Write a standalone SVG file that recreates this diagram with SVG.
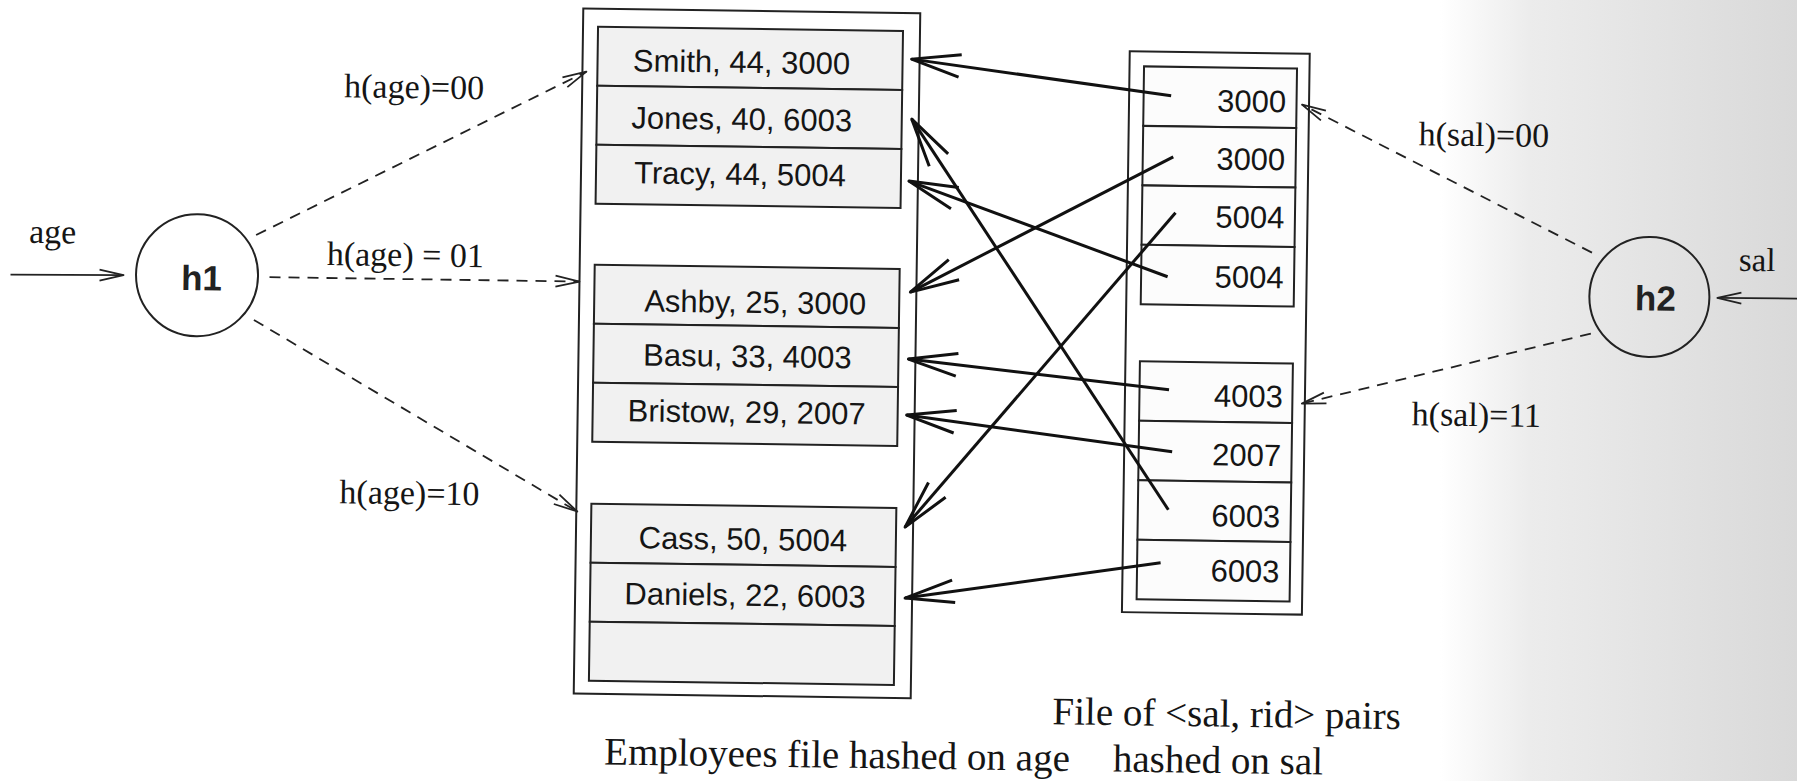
<svg xmlns="http://www.w3.org/2000/svg" width="1797" height="781" viewBox="0 0 1797 781">
<defs>
<linearGradient id="shade" x1="0" y1="0" x2="1" y2="0">
<stop offset="0" stop-color="#ffffff"/>
<stop offset="0.25" stop-color="#ececec"/>
<stop offset="1" stop-color="#d9d9d9"/>
</linearGradient>
<marker id="big" markerUnits="userSpaceOnUse" viewBox="-60 -20 70 40" markerWidth="70" markerHeight="40" refX="0" refY="0" orient="auto" overflow="visible">
<path d="M-49,-11.3 L0,0 L-49,11.3" fill="none" stroke="#111" stroke-width="3" stroke-linejoin="round" stroke-dasharray="none"/>
</marker>
<marker id="small" markerUnits="userSpaceOnUse" viewBox="-30 -10 40 20" markerWidth="40" markerHeight="20" refX="0" refY="0" orient="auto" overflow="visible">
<path d="M-24,-5.5 L0,0 L-24,5.5" fill="none" stroke="#222" stroke-width="1.8" stroke-linejoin="round" stroke-dasharray="none"/>
</marker>
</defs>
<style>
.box{fill:none;stroke:#222;stroke-width:2}
.row{fill:#f1f1f1;stroke:#222;stroke-width:2}
.cell{fill:#fcfcfc;stroke:#222;stroke-width:2}
.rec{font-family:"Liberation Sans",Arial,sans-serif;font-size:31px;fill:#151515;text-anchor:middle}
.sal{font-family:"Liberation Sans",Arial,sans-serif;font-size:31px;fill:#151515;text-anchor:end}
.lbl{font-family:"Liberation Serif","Times New Roman",serif;font-size:34px;fill:#151515}
.cap{font-family:"Liberation Serif","Times New Roman",serif;font-size:39px;fill:#151515}
.hn{font-family:"Liberation Sans",Arial,sans-serif;font-size:35px;font-weight:bold;fill:#222;text-anchor:middle}
.circ{fill:none;stroke:#222;stroke-width:2}
.solid{fill:none;stroke:#111;stroke-width:3;marker-end:url(#big)}
.dash{fill:none;stroke:#222;stroke-width:1.8;stroke-dasharray:11 8;marker-end:url(#small)}
.thin{fill:none;stroke:#222;stroke-width:1.8;marker-end:url(#small)}
</style>
<rect x="0" y="0" width="1797" height="781" fill="#ffffff"/>
<rect x="1440" y="0" width="357" height="781" fill="url(#shade)"/>
<g transform="rotate(0.8 900 390)">
<g id="employees-file">
<rect class="box" x="578" y="13" width="337" height="685"/>
<g id="emp-bucket-00">
<rect class="row" x="593" y="31" width="305" height="59"/>
<rect class="row" x="593" y="90" width="305" height="59"/>
<rect class="row" x="593" y="149" width="305" height="59"/>
<text class="rec" x="737" y="75">Smith, 44, 3000</text>
<text class="rec" x="738" y="132">Jones, 40, 6003</text>
<text class="rec" x="737" y="187">Tracy, 44, 5004</text>
</g>
<g id="emp-bucket-01">
<rect class="row" x="593" y="269" width="305" height="59"/>
<rect class="row" x="593" y="328" width="305" height="59"/>
<rect class="row" x="593" y="387" width="305" height="59"/>
<text class="rec" x="754" y="315">Ashby, 25, 3000</text>
<text class="rec" x="747" y="369">Basu, 33, 4003</text>
<text class="rec" x="747" y="425">Bristow, 29, 2007</text>
</g>
<g id="emp-bucket-10">
<rect class="row" x="593" y="508" width="305" height="59"/>
<rect class="row" x="593" y="567" width="305" height="59"/>
<rect class="row" x="593" y="626" width="305" height="59"/>
<text class="rec" x="745" y="552">Cass, 50, 5004</text>
<text class="rec" x="748" y="608">Daniels, 22, 6003</text>
</g>
</g>
<g id="sal-file">
<rect class="box" x="1125" y="48" width="180" height="561"/>
<g id="sal-bucket-00">
<rect class="cell" x="1139.5" y="63" width="153" height="59.5"/>
<rect class="cell" x="1139.5" y="122.5" width="153" height="59.5"/>
<rect class="cell" x="1139.5" y="182" width="153" height="59.5"/>
<rect class="cell" x="1139.5" y="241.5" width="153" height="59.5"/>
<text class="sal" x="1282" y="107">3000</text>
<text class="sal" x="1282" y="165">3000</text>
<text class="sal" x="1282" y="223">5004</text>
<text class="sal" x="1282" y="283">5004</text>
</g>
<g id="sal-bucket-11">
<rect class="cell" x="1139.5" y="358" width="153" height="59.5"/>
<rect class="cell" x="1139.5" y="417.5" width="153" height="59.5"/>
<rect class="cell" x="1139.5" y="477" width="153" height="59.5"/>
<rect class="cell" x="1139.5" y="536.5" width="153" height="59.5"/>
<text class="sal" x="1283" y="402">4003</text>
<text class="sal" x="1282" y="461">2007</text>
<text class="sal" x="1282" y="522">6003</text>
<text class="sal" x="1282" y="577">6003</text>
</g>
</g>
<g id="h1">
<circle class="circ" cx="195.5" cy="285" r="61"/>
<text class="hn" x="200" y="300">h1</text>
</g>
<g id="h2">
<circle class="circ" cx="1648" cy="286.5" r="60"/>
<text class="hn" x="1654" y="300">h2</text>
</g>
<g id="connectors">
<path class="thin" d="M9,287 L122,286"/>
<path class="thin" d="M1800,286 L1716,286.5"/>
<path class="dash" d="M254,244 L582,76"/>
<path class="dash" d="M268,286 L578,286"/>
<path class="dash" d="M253,329 L579,516"/>
<path class="dash" d="M1590,243 L1298,99"/>
<path class="dash" d="M1590,324 L1302,398"/>
<path class="solid" d="M1167,92 L907,59"/>
<path class="solid" d="M1170,153 L909,292"/>
<path class="solid" d="M1166,273 L906,181"/>
<path class="solid" d="M1173,209 L907,527"/>
<path class="solid" d="M1170,506 L908,119"/>
<path class="solid" d="M1169,386 L908,359"/>
<path class="solid" d="M1173,448 L907,415"/>
<path class="solid" d="M1163,559 L908,598"/>
</g>
<g id="labels">
<text class="lbl" x="27" y="255">age</text>
<text class="lbl" x="340" y="105">h(age)=00</text>
<text class="lbl" x="325" y="273">h(age) = 01</text>
<text class="lbl" x="341" y="511">h(age)=10</text>
<text class="lbl" x="1415" y="138">h(sal)=00</text>
<text class="lbl" x="1412" y="418">h(sal)=11</text>
<text class="lbl" x="1737" y="259" style="font-size:33px">sal</text>
<text class="cap" x="1057" y="722">File of &lt;sal, rid&gt; pairs</text>
<text class="cap" x="1075" y="768.5" text-anchor="end">Employees file hashed on age</text>
<text class="cap" x="1118" y="768.5">hashed on sal</text>
</g>
</g>
</svg>
